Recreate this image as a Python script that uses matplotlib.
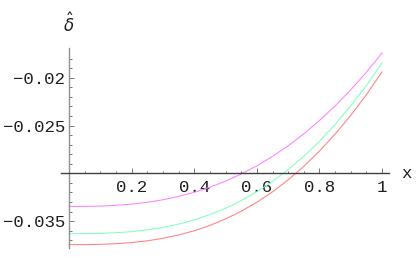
import matplotlib
matplotlib.use("Agg")
import matplotlib.pyplot as plt
from matplotlib.ticker import MultipleLocator, FixedLocator

# curve samples
x = [0.0, 0.05, 0.1, 0.15, 0.2, 0.25, 0.3, 0.35, 0.4, 0.45, 0.5,
     0.55, 0.6, 0.65, 0.7, 0.75, 0.8, 0.85, 0.9, 0.95, 1.0]
magenta = [-0.03346, -0.03345, -0.03342, -0.03334, -0.03322, -0.03302, -0.03276,
           -0.03241, -0.03198, -0.03145, -0.03081, -0.03007, -0.02921, -0.02823,
           -0.02712, -0.02587, -0.02447, -0.02295, -0.02126, -0.01942, -0.01741]
green = [-0.03630, -0.03630, -0.03627, -0.03620, -0.03609, -0.03591, -0.03565,
         -0.03531, -0.03486, -0.03431, -0.03365, -0.03285, -0.03192, -0.03084,
         -0.02961, -0.02821, -0.02664, -0.02489, -0.02295, -0.02081, -0.01846]
red = [-0.03745, -0.03745, -0.03742, -0.03735, -0.03723, -0.03705, -0.03679,
       -0.03644, -0.03600, -0.03544, -0.03476, -0.03396, -0.03302, -0.03193,
       -0.03068, -0.02926, -0.02767, -0.02590, -0.02393, -0.02177, -0.01939]

xticks = [0.2, 0.4, 0.6, 0.8, 1.0]
xticklabels = ["0.2", "0.4", "0.6", "0.8", "1"]
yticks = [-0.035, -0.025, -0.02]
yticklabels = ["\u22120.035", "\u22120.025", "\u22120.02"]

W, H = 416, 257
fig = plt.figure(figsize=(W / 100, H / 100), dpi=100)
ax = fig.add_axes([61 / W, 1 - 248 / H, 328 / W, 200 / H])

ax.plot(x, magenta, color="#ff80ff", lw=0.75)
ax.plot(x, green, color="#80ffc0", lw=0.75)
ax.plot(x, red, color="#ff8080", lw=0.75)

ax.set_xlim(-0.0256, 1.022)
ax.set_ylim(-0.0378, -0.0169)

for s in ["top", "right"]:
    ax.spines[s].set_visible(False)
ax.spines["left"].set_position(("data", 0))
ax.spines["bottom"].set_position(("data", -0.03))
ax.spines["left"].set_color("#909090")
ax.spines["bottom"].set_color("#404040")
ax.spines["left"].set_linewidth(1.0)
ax.spines["bottom"].set_linewidth(1.0)

ax.xaxis.set_major_locator(FixedLocator(xticks))
ax.set_xticklabels(xticklabels)
ax.xaxis.set_minor_locator(MultipleLocator(0.05))
ax.yaxis.set_major_locator(FixedLocator(yticks))
ax.set_yticklabels(yticklabels)
ax.yaxis.set_minor_locator(FixedLocator([-0.037 + 0.001 * i for i in range(20)]))

ax.tick_params(which="both", direction="in", color="#606060", width=0.6)
ax.tick_params(which="major", length=3.5)
ax.tick_params(which="minor", length=1.8)
ax.tick_params(axis="x", which="major", pad=5)
ax.tick_params(axis="y", which="major", pad=3)
for lab in ax.get_xticklabels() + ax.get_yticklabels():
    lab.set_fontfamily("Liberation Mono")
    lab.set_fontsize(12.5)
    lab.set_color("#202020")

fig.text(406 / W, 1 - 173 / H, "x", fontsize=12.5, family="Liberation Mono",
         ha="center", va="center", color="#202020")
fig.text(69 / W, 1 - 24 / H, r"$\hat{\delta}$", fontsize=12,
         ha="center", va="center", color="#202020")

fig.savefig("out.png", dpi=100)
